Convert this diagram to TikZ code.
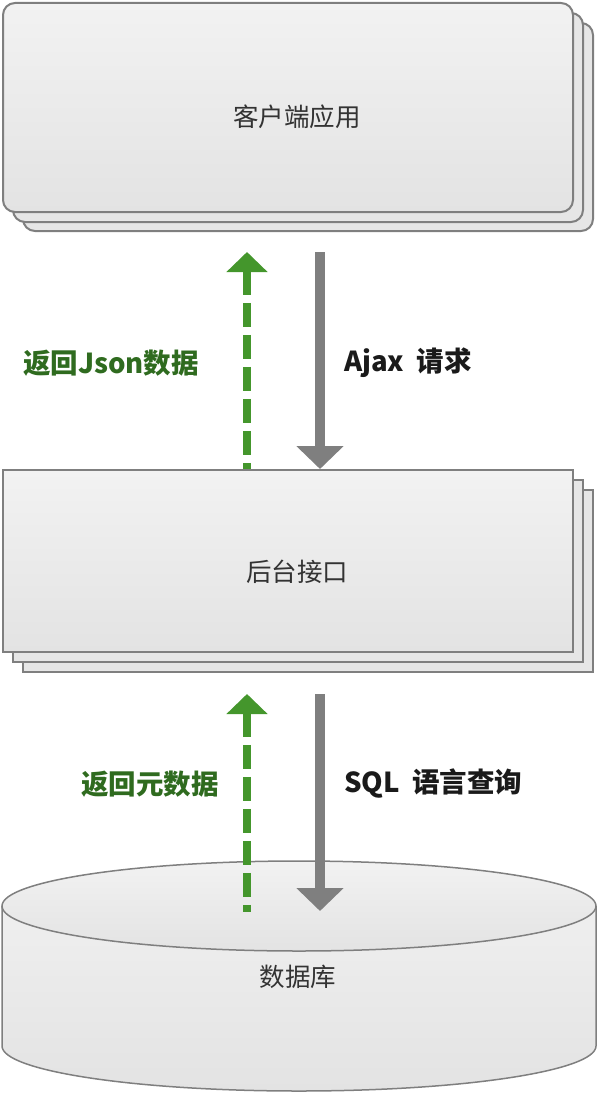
\documentclass[tikz,border=0pt]{standalone}
\usepackage{fontspec}
\newfontfamily\cjk{Noto Sans CJK SC}
\usetikzlibrary{arrows.meta}
\definecolor{edgegray}{HTML}{7F7F7F}
\definecolor{backfill}{HTML}{E6E6E6}
\definecolor{topfill}{HTML}{F2F2F2}
\definecolor{botfill}{HTML}{E3E3E3}
\definecolor{arrowgreen}{HTML}{44962C}
\definecolor{labelgreen}{HTML}{2F6B1F}
\definecolor{nodetext}{HTML}{333333}
\definecolor{labelblack}{HTML}{1A1A1A}
\begin{document}
\begin{tikzpicture}[x=1pt,y=-1pt,
  backbox/.style={draw=edgegray, line width=2pt, fill=backfill},
  frontbox/.style={draw=edgegray, line width=2pt, top color=topfill, bottom color=botfill, minimum width=570pt, inner sep=0pt},
  nodelabel/.style={font=\cjk\fontsize{25.5}{30}\selectfont, text=nodetext, inner sep=0pt},
  reqarrow/.style={draw=edgegray, line width=10pt, -{Triangle[length=23pt,width=46pt]}},
  resarrow/.style={draw=arrowgreen, line width=8pt, dash pattern=on 24pt off 8pt, {Triangle[length=20pt,width=40pt]}-},
  greenlabel/.style={font=\cjk\bfseries\fontsize{27.5}{32}\selectfont, text=labelgreen, inner sep=0pt},
  blacklabel/.style={font=\cjk\bfseries\fontsize{27.5}{32}\selectfont, text=labelblack, inner sep=0pt, anchor=west}]
\useasboundingbox (0,0) rectangle (598,1094);

% client application stack
\draw[backbox, rounded corners=12pt] (23,23) rectangle (593,231);
\draw[backbox, rounded corners=12pt] (13,13) rectangle (583,222);
\node[frontbox, rounded corners=12pt, minimum height=209pt] (client) at (288,107.5) {};
\node[nodelabel] (clientText) at (297,117) {客户端应用};

% backend interface stack
\draw[backbox] (23,490) rectangle (593,672);
\draw[backbox] (13,480) rectangle (583,662);
\node[frontbox, minimum height=182pt] (api) at (288,561) {};
\node[nodelabel] (apiText) at (297,572) {后台接口};

% database cylinder
\fill[top color=topfill, bottom color=botfill] (2,906) -- (2,1046)
  arc[start angle=180, end angle=0, x radius=297, y radius=45] -- (596,906)
  arc[start angle=0, end angle=-180, x radius=297, y radius=45] -- cycle;
\draw[edgegray, line width=1.5pt] (2,906) -- (2,1046)
  arc[start angle=180, end angle=0, x radius=297, y radius=45] -- (596,906);
\draw[edgegray, line width=1.5pt, top color=topfill, bottom color=botfill] (299,906) ellipse [x radius=297, y radius=45];
\node[nodelabel] (db) at (298,977) {数据库};

% connector end points
\coordinate (reqTop1) at (320,252);
\coordinate (reqBot1) at (320,469);
\coordinate (resTop1) at (247,252);
\coordinate (resBot1) at (247,469);
\coordinate (reqTop2) at (320,694);
\coordinate (reqBot2) at (320,911);
\coordinate (resTop2) at (247,694);
\coordinate (resBot2) at (247,912);

% connectors
\draw[resarrow] (resTop1) -- (resBot1);
\draw[reqarrow] (reqTop1) -- (reqBot1);
\draw[resarrow] (resTop2) -- (resBot2);
\draw[reqarrow] (reqTop2) -- (reqBot2);

% connector labels
\node[greenlabel] (lblJson) at (111,363) {返回Json数据};
\node[blacklabel] (lblAjax) at (344,363) {Ajax\hspace{0.45em}请求};
\node[greenlabel] (lblMeta) at (150,784) {返回元数据};
\node[blacklabel] (lblSql) at (344,784) {SQL\hspace{0.45em}语言查询};
\end{tikzpicture}
\end{document}
